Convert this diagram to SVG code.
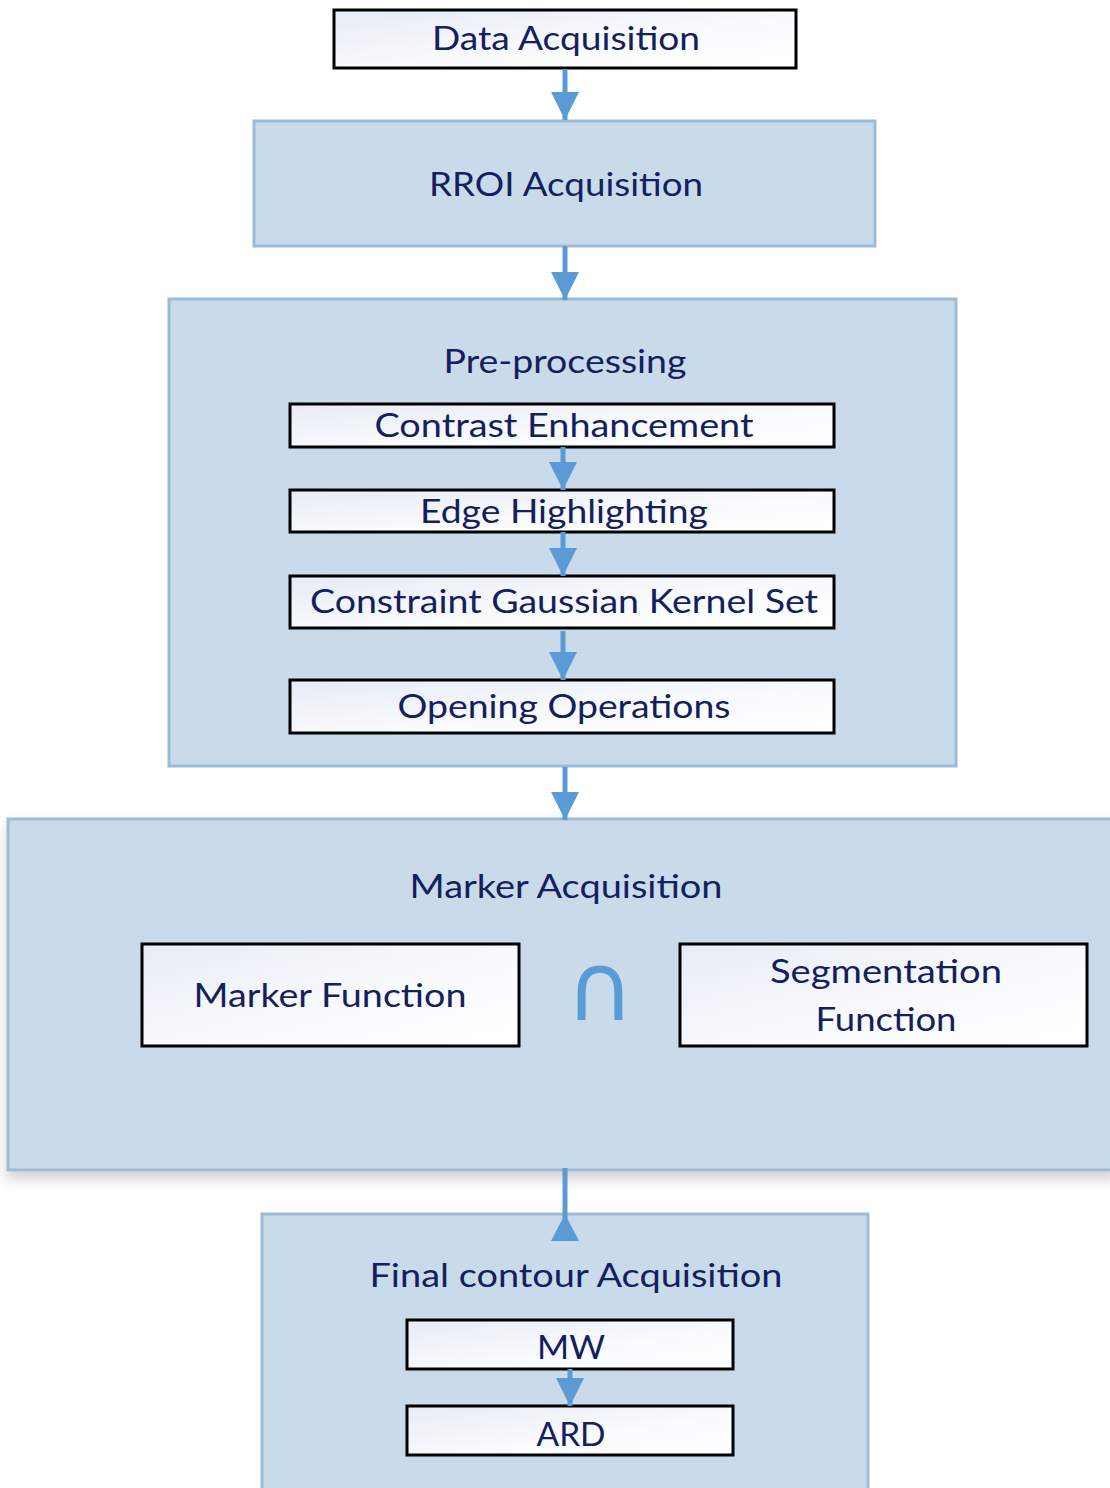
<svg xmlns="http://www.w3.org/2000/svg" width="1110" height="1488" viewBox="0 0 1110 1488">
  <style>
    .stage { fill: #c9dbea; stroke: #9dbbd7; stroke-width: 3; }
    .step { fill: url(#stepFill); stroke: #000; stroke-width: 3; }
    .lbl { font-family: Lato, "Open Sans", "Liberation Sans", sans-serif; fill: #14205e; text-anchor: middle; }
    .big { font-size: 32px; }
    .sub { font-size: 32px; }
    .sym { font-family: "DejaVu Sans", sans-serif; fill: #5b9bd5; text-anchor: middle; font-size: 94px; }
    .flow { stroke: #5b9bd5; stroke-width: 5; fill: none; }
  </style>
  <defs>
    <linearGradient id="stepFill" x1="0" y1="0" x2="1" y2="1">
      <stop offset="0" stop-color="#e6ecf6"/>
      <stop offset="0.6" stop-color="#fafbfd"/>
      <stop offset="1" stop-color="#ffffff"/>
    </linearGradient>
    <marker id="head" markerUnits="userSpaceOnUse" markerWidth="30" markerHeight="30" viewBox="0 0 30 30" refX="28" refY="15" orient="auto">
      <path d="M0,1 L28,15 L0,29 Z" fill="#5b9bd5"/>
    </marker>
    <filter id="shadow" x="-5%" y="-5%" width="110%" height="115%">
      <feGaussianBlur in="SourceAlpha" stdDeviation="7"/>
      <feOffset dx="0" dy="8" result="b"/>
      <feComponentTransfer><feFuncA type="linear" slope="0.18"/></feComponentTransfer>
      <feMerge><feMergeNode/><feMergeNode in="SourceGraphic"/></feMerge>
    </filter>
  </defs>

  <rect width="1110" height="1488" fill="#ffffff"/>

  <!-- stages -->
  <g id="data-acquisition">
    <rect class="step" x="334" y="10" width="462" height="58"/>
    <text class="lbl big" x="566" y="50" textLength="268" lengthAdjust="spacingAndGlyphs">Data Acquisition</text>
  </g>

  <g id="rroi-acquisition">
    <rect class="stage" x="254" y="121" width="621" height="125"/>
    <text class="lbl big" x="566" y="196" textLength="274" lengthAdjust="spacingAndGlyphs">RROI Acquisition</text>
  </g>

  <g id="pre-processing">
    <rect class="stage" x="169" y="299" width="787" height="467"/>
    <text class="lbl big" x="565" y="373" textLength="243" lengthAdjust="spacingAndGlyphs">Pre-processing</text>
  </g>
  <g id="contrast-enhancement">
    <rect class="step" x="290" y="404" width="544" height="43"/>
    <text class="lbl sub" x="564" y="437" textLength="379" lengthAdjust="spacingAndGlyphs">Contrast Enhancement</text>
  </g>
  <g id="edge-highlighting">
    <rect class="step" x="290" y="490" width="544" height="42"/>
    <text class="lbl sub" x="564" y="523" textLength="288" lengthAdjust="spacingAndGlyphs">Edge Highlighting</text>
  </g>
  <g id="gaussian-kernel-set">
    <rect class="step" x="290" y="576" width="544" height="52"/>
    <text class="lbl sub" x="564" y="613" textLength="508" lengthAdjust="spacingAndGlyphs">Constraint Gaussian Kernel Set</text>
  </g>
  <g id="opening-operations">
    <rect class="step" x="290" y="680" width="544" height="53"/>
    <text class="lbl sub" x="564" y="718" textLength="333" lengthAdjust="spacingAndGlyphs">Opening Operations</text>
  </g>

  <g id="marker-acquisition">
    <rect class="stage" x="8" y="819" width="1110" height="351" filter="url(#shadow)"/>
    <text class="lbl big" x="566" y="898" textLength="313" lengthAdjust="spacingAndGlyphs">Marker Acquisition</text>
  </g>
  <g id="marker-function">
    <rect class="step" x="142" y="944" width="377" height="102"/>
    <text class="lbl big" x="330" y="1007" textLength="273" lengthAdjust="spacingAndGlyphs">Marker Function</text>
  </g>
  <g id="intersection">
    <text class="sym" x="600" y="1020">∩</text>
  </g>
  <g id="segmentation-function">
    <rect class="step" x="680" y="944" width="407" height="102"/>
    <text class="lbl big" x="886" y="983" textLength="232" lengthAdjust="spacingAndGlyphs">Segmentation</text>
    <text class="lbl big" x="886" y="1031" textLength="141" lengthAdjust="spacingAndGlyphs">Function</text>
  </g>

  <g id="final-contour-acquisition">
    <rect class="stage" x="262" y="1214" width="606" height="290"/>
    <text class="lbl big" x="576" y="1287" textLength="413" lengthAdjust="spacingAndGlyphs">Final contour Acquisition</text>
  </g>
  <g id="mw">
    <rect class="step" x="407" y="1320" width="326" height="49"/>
    <text class="lbl big" x="571" y="1359" textLength="68" lengthAdjust="spacingAndGlyphs">MW</text>
  </g>
  <g id="ard">
    <rect class="step" x="407" y="1406" width="326" height="49"/>
    <text class="lbl big" x="571" y="1446" textLength="69" lengthAdjust="spacingAndGlyphs">ARD</text>
  </g>

  <!-- connectors -->
  <g id="connectors">
    <path class="flow" d="M565,69 V120" marker-end="url(#head)"/>
    <path class="flow" d="M565,246 V300" marker-end="url(#head)"/>
    <path class="flow" d="M563,447 V490" marker-end="url(#head)"/>
    <path class="flow" d="M563,532 V576" marker-end="url(#head)"/>
    <path class="flow" d="M563,631 V680" marker-end="url(#head)"/>
    <path class="flow" d="M565,767 V820" marker-end="url(#head)"/>
    <path class="flow" d="M565,1241 V1168"/>
    <path d="M551,1241 L565,1214 L579,1241 Z" fill="#5b9bd5"/>
    <path class="flow" d="M570,1369 V1406" marker-end="url(#head)"/>
  </g>
</svg>
